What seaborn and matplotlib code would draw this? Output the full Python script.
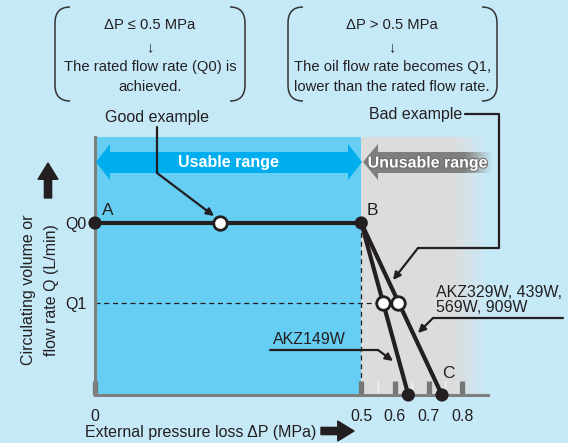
import numpy as np
import pandas as pd
import matplotlib.pyplot as plt
import matplotlib.patches as mpatches
from matplotlib.path import Path
import matplotlib.patheffects as pe
import seaborn as sns

sns.set_style('white')
plt.rcParams['font.family'] = ['Liberation Sans', 'DejaVu Sans']
plt.rcParams['axes.axisbelow'] = False

# data
Q0 = 10.0
Q1 = 5.35
rated_dp = [0.0, 0.5]
rated_q = [Q0, Q0]
akz149_dp = [0.5, 0.64]
akz329_dp = [0.5, 0.74]
drop_q = [Q0, 0.0]
q1_dp = [0.565, 0.61]
good_dp = 0.235
xticks = [0, 0.5, 0.6, 0.7, 0.8]
xticklabels = ['0', '0.5', '0.6', '0.7', '0.8']
minor_ticks = [0.55, 0.65, 0.75]
yticks = [Q0, Q1]
yticklabels = ['Q0', 'Q1']

BG = '#c6e9f8'
BLUE = '#66cdf3'
ARROW_BLUE = '#00aeef'
GRAY_BG = '#dcdcdc'
INK = '#231f20'
SPINE = '#7f7f7f'
FS = 11.5


def fwd(x):
    x = np.asarray(x, float)
    return np.where(x <= 0.5, x, 0.5 + (x - 0.5) * 0.631)


def inv(x):
    x = np.asarray(x, float)
    return np.where(x <= 0.5, x, 0.5 + (x - 0.5) / 0.631)


fig = plt.figure(figsize=(5.68, 4.43), dpi=100, facecolor=BG)
ax = fig.add_axes([95 / 568, 48 / 443, 393 / 568, 258 / 443])
ax.set_axisbelow(False)
ax.set_xscale('function', functions=(fwd, inv))
ax.set_xlim(0, 0.877)
ax.set_ylim(0, 15)
ax.set_facecolor('none')

# background regions
ax.axvspan(0, 0.5, color=BLUE, lw=0, zorder=0)
ax.axvspan(0.5, 0.77, color=GRAY_BG, lw=0, zorder=0)
g = np.array([0xdc, 0xdc, 0xdc]) / 255
b = np.array([0xc6, 0xe9, 0xf8]) / 255
edges = np.linspace(0.77, 0.877, 25)
for i in range(len(edges) - 1):
    t = i / (len(edges) - 2)
    ax.axvspan(edges[i], edges[i + 1], color=g * (1 - t) + b * t, lw=0, zorder=0)

# dashed guides
ax.plot([0, q1_dp[1]], [Q1, Q1], ls=(0, (4, 3)), color=INK, lw=0.9, zorder=2)
ax.plot([0.5, 0.5], [0, Q0], ls=(0, (4, 3)), color=INK, lw=0.9, zorder=2)

# curves
sns.lineplot(x=rated_dp, y=rated_q, ax=ax, color=INK, lw=3, zorder=3)
sns.lineplot(x=akz149_dp, y=drop_q, ax=ax, color=INK, lw=3, zorder=3)
sns.lineplot(x=akz329_dp, y=drop_q, ax=ax, color=INK, lw=3, zorder=3)

sns.scatterplot(x=[rated_dp[0], rated_dp[1], akz149_dp[1], akz329_dp[1]],
                y=[Q0, Q0, 0, 0], ax=ax, color=INK, s=90, edgecolor='none',
                zorder=5, clip_on=False)
sns.scatterplot(x=[good_dp] + q1_dp, y=[Q0, Q1, Q1], ax=ax, color='white',
                s=95, edgecolor=INK, linewidth=2, zorder=5)

ax.annotate('A', (rated_dp[0], Q0), xytext=(5, 6), textcoords='offset points',
            fontsize=12.5, color=INK)
ax.annotate('B', (rated_dp[1], Q0), xytext=(4, 6), textcoords='offset points',
            fontsize=12.5, color=INK)
ax.annotate('C', (akz329_dp[1], 0), xytext=(0, 12), textcoords='offset points',
            fontsize=12.5, color=INK)

# axes styling
for s in ['top', 'right']:
    ax.spines[s].set_visible(False)
for s in ['left', 'bottom']:
    ax.spines[s].set_color(SPINE)
    ax.spines[s].set_linewidth(2.2)
    ax.spines[s].set_zorder(4)
ax.set_xticks(xticks)
ax.set_xticklabels(xticklabels)
ax.set_xticks(minor_ticks, minor=True)
ax.tick_params(axis='x', which='both', bottom=True)
ax.tick_params(axis='x', which='major', direction='in', length=10, width=3.8,
               color='#767676', pad=10, labelsize=FS, labelcolor=INK)
ax.tick_params(axis='x', which='minor', direction='in', length=10, width=0.9,
               color='#f4f4f4')
ax.set_yticks(yticks)
ax.set_yticklabels(yticklabels)
ax.tick_params(axis='y', length=0, pad=6, labelsize=FS, labelcolor=INK)

# overlay in pixel coordinates for annotations
ov = fig.add_axes([0, 0, 1, 1], zorder=5)
ov.axis('off')
ov.patch.set_alpha(0)


def bracket(xe, xt, y0, y1, r=16):
    verts = [(xt, y0), (xe, y0), (xe, y0 + r), (xe, y1 - r), (xe, y1), (xt, y1)]
    codes = [Path.MOVETO, Path.CURVE3, Path.CURVE3, Path.LINETO, Path.CURVE3, Path.CURVE3]
    ov.add_patch(mpatches.PathPatch(Path(verts, codes), fill=False, lw=1.1, ec='#333333'))


bracket(55, 70, 7, 101)
bracket(245, 230, 7, 101)
bracket(288, 303, 7, 101)
bracket(497, 482, 7, 101)

box_left = ['ΔP ≤ 0.5 MPa', '↓', 'The rated flow rate (Q0) is', 'achieved.']
box_right = ['ΔP > 0.5 MPa', '↓', 'The oil flow rate becomes Q1,', 'lower than the rated flow rate.']
for yy, t1, t2 in zip([25, 47, 67, 87], box_left, box_right):
    ov.text(150, yy, t1, ha='center', va='center', fontsize=10.6, color=INK)
    ov.text(392, yy, t2, ha='center', va='center', fontsize=10.6, color=INK)

# range arrows
usable = [(96, 162), (110, 144), (110, 152), (348, 152), (348, 144), (362, 162),
          (348, 180), (348, 173), (110, 173), (110, 180)]
ov.add_patch(mpatches.Polygon(usable, closed=True, fc=ARROW_BLUE, ec='none'))
ov.text(228, 163, 'Usable range', ha='center', va='center', fontsize=FS,
        fontweight='bold', color='white')

unusable = [(363, 162), (378, 144), (378, 152), (492, 152), (492, 173), (378, 173), (378, 180)]
upoly = mpatches.Polygon(unusable, closed=True, fc='none', ec='none')
ov.add_patch(upoly)
grad = np.ones((2, 256, 4))
grad[..., :3] = 0.5
grad[..., 3] = np.clip((492 - np.linspace(363, 492, 256)) / 28, 0, 1)
im = ov.imshow(grad, extent=(363, 492, 180, 144), aspect='auto', interpolation='bilinear')
im.set_clip_path(upoly)
ov.text(428, 163, 'Unusable range', ha='center', va='center', fontsize=FS,
        fontweight='bold', color='white',
        path_effects=[pe.withStroke(linewidth=1.5, foreground='#6d6d6d')])

# leaders
lk = dict(color=INK, lw=1.6)
ak = dict(arrowstyle='-|>', color=INK, lw=1.6, mutation_scale=11, shrinkA=0, shrinkB=0)
ov.text(157, 117, 'Good example', ha='center', va='center', fontsize=FS, color=INK)
ov.plot([157, 157], [127, 173], **lk)
ov.annotate('', xy=(214, 216), xytext=(157, 173), arrowprops=ak)

ov.text(462, 114, 'Bad example', ha='right', va='center', fontsize=FS, color=INK)
ov.plot([465, 499, 499, 418], [114, 114, 248, 248], **lk)
ov.annotate('', xy=(393, 280), xytext=(418, 248), arrowprops=ak)

ov.text(436, 300, 'AKZ329W, 439W,\n569W, 909W', ha='left', va='center', fontsize=FS,
        color=INK, linespacing=0.95)
ov.plot([563, 433], [318, 318], **lk)
ov.annotate('', xy=(418, 333), xytext=(433, 318), arrowprops=ak)

ov.text(273, 339, 'AKZ149W', ha='left', va='center', fontsize=FS, color=INK)
ov.plot([270, 378], [350, 350], **lk)
ov.annotate('', xy=(393, 361), xytext=(378, 350), arrowprops=ak)

# axis titles
ov.text(29, 290, 'Circulating volume or', rotation=90, ha='center', va='center',
        fontsize=FS, color=INK)
ov.text(52, 290, 'flow rate Q (L/min)', rotation=90, ha='center', va='center',
        fontsize=FS, color=INK)
big = dict(arrowstyle='simple,head_length=0.9,head_width=1.1,tail_width=0.4',
           color=INK, mutation_scale=13, shrinkA=0, shrinkB=0)
ov.annotate('', xy=(48, 163), xytext=(48, 198), arrowprops=big)
ov.text(85, 432, 'External pressure loss ΔP (MPa)', ha='left', va='center',
        fontsize=FS, color=INK)
ov.annotate('', xy=(354, 431), xytext=(321, 431), arrowprops=big)

ov.set_xlim(0, 568)
ov.set_ylim(443, 0)

fig.savefig('out.png', dpi=100, facecolor=BG)
